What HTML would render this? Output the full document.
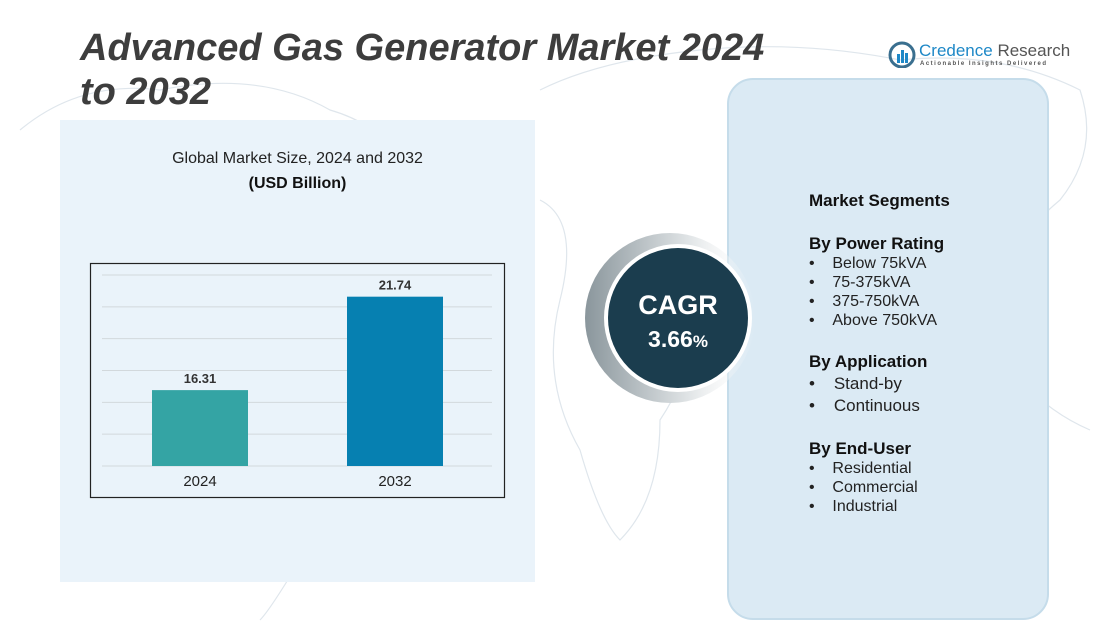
<!DOCTYPE html>
<html><head><meta charset="utf-8"><style>
body{margin:0;width:1113px;height:623px;background:#fff;position:relative;overflow:hidden;font-family:"Liberation Sans",sans-serif;}
.abs{position:absolute;}
#title{left:80px;top:26px;font-size:38px;font-weight:bold;font-style:italic;color:#3d3d3d;line-height:44px;}
#left-panel{left:60px;top:120px;width:475px;height:462px;background:#eaf3fa;}
#right-panel{left:727px;top:78px;width:322px;height:542px;background:#dbeaf4;border:2px solid #c5dcea;border-radius:26px;box-sizing:border-box;}
.seg{position:absolute;left:809px;color:#111;font-size:16px;}
.h{font-weight:bold;font-size:17px;}
.li{font-size:16px;color:#222;}
</style></head><body>
<svg class="abs" style="left:0;top:0" width="1113" height="623">
<g fill="none" stroke="#dfe6ec" stroke-width="1.2">
<path d="M20 130 Q80 80 160 90 Q260 70 330 110 Q400 130 420 200 Q380 260 330 300 Q300 360 340 420 Q360 500 300 560 Q270 610 260 620"/>
<path d="M540 90 Q600 60 700 50 Q800 40 900 60 Q1000 50 1080 90 Q1100 150 1060 200 Q1000 250 980 320 Q1020 400 1090 430"/>
<path d="M540 200 Q580 220 560 300 Q540 380 580 450 Q600 520 620 540 Q660 500 660 420 Q700 360 690 300"/>
</g></svg>
<div id="title" class="abs">Advanced Gas Generator Market 2024<br>to 2032</div>
<div class="abs" style="left:888px;top:40px;width:180px;height:30px">
<svg width="28" height="28" style="position:absolute;left:0;top:0"><circle cx="14" cy="15" r="12" fill="none" stroke="#3a6f8f" stroke-width="3"/><rect x="9" y="14" width="3" height="9" fill="#1e88c7"/><rect x="13" y="10" width="3" height="13" fill="#1e88c7"/><rect x="17" y="13" width="3" height="10" fill="#1e88c7"/></svg>
<div style="position:absolute;left:31px;top:1px;font-size:17px;color:#555;white-space:nowrap"><span style="color:#1e88c7">Credence</span> Research</div>
<div style="position:absolute;left:32px;top:21px;font-size:6px;color:#555;letter-spacing:1.5px;white-space:nowrap;font-weight:bold">Actionable Insights Delivered</div>
</div>
<div id="left-panel" class="abs"></div>
<div class="abs" style="left:60px;top:150px;width:475px;text-align:center;font-size:16px;color:#222">Global Market Size, 2024 and 2032</div>
<div class="abs" style="left:60px;top:175px;width:475px;text-align:center;font-size:16px;font-weight:bold;color:#111">(USD Billion)</div>
<svg id="chart" class="abs" style="left:0;top:0" width="1113" height="623"></svg>
<div id="right-panel" class="abs"></div>
<svg class="abs" style="left:570px;top:215px" width="200" height="210">
<defs><linearGradient id="g" x1="0" x2="1"><stop offset="0" stop-color="#8a969c"/><stop offset="0.6" stop-color="#dfe3e5"/><stop offset="1" stop-color="#ffffff" stop-opacity="0"/></linearGradient></defs>
<circle cx="100" cy="103" r="85" fill="url(#g)"/>
<circle cx="108" cy="103" r="74" fill="#fff"/>
<circle cx="108" cy="103" r="70" fill="#1b3d4e"/>
<text x="108" y="99" text-anchor="middle" fill="#fff" font-size="27" font-weight="bold" font-family="Liberation Sans">CAGR</text>
<text x="108" y="132" text-anchor="middle" fill="#fff" font-size="23" font-weight="bold" font-family="Liberation Sans">3.66<tspan font-size="17">%</tspan></text>
</svg>
<div class="seg h" style="top:191px">Market Segments</div>
<div class="seg h" style="top:234px">By Power Rating</div>
<div class="seg li" style="top:255px">•&nbsp;&nbsp;&nbsp;&nbsp;Below 75kVA</div>
<div class="seg li" style="top:274px">•&nbsp;&nbsp;&nbsp;&nbsp;75-375kVA</div>
<div class="seg li" style="top:293px">•&nbsp;&nbsp;&nbsp;&nbsp;375-750kVA</div>
<div class="seg li" style="top:312px">•&nbsp;&nbsp;&nbsp;&nbsp;Above 750kVA</div>
<div class="seg h" style="top:352px">By Application</div>
<div class="seg li" style="top:374px;font-size:17px">•&nbsp;&nbsp;&nbsp;&nbsp;Stand-by</div>
<div class="seg li" style="top:396px;font-size:17px">•&nbsp;&nbsp;&nbsp;&nbsp;Continuous</div>
<div class="seg h" style="top:439px">By End-User</div>
<div class="seg li" style="top:460px">•&nbsp;&nbsp;&nbsp;&nbsp;Residential</div>
<div class="seg li" style="top:479px">•&nbsp;&nbsp;&nbsp;&nbsp;Commercial</div>
<div class="seg li" style="top:498px">•&nbsp;&nbsp;&nbsp;&nbsp;Industrial</div>
<script>
const categories=["2024","2032"];
const values=[16.31,21.74];
const valueLabels=["16.31","21.74"];
const barColors=["#34a4a4","#0680b1"];
const yMin=11.9, yMax=23.0, gridCount=6;
const svg=document.getElementById('chart');
const NS='http://www.w3.org/2000/svg';
const plot={x0:102,x1:492,yBase:466,yTop:275};
function y(v){return plot.yBase-(v-yMin)/(yMax-yMin)*(plot.yBase-plot.yTop);}
function xc(i){return 200+i*195;}
function mk(t,a){const e=document.createElementNS(NS,t);for(const k in a)e.setAttribute(k,a[k]);svg.appendChild(e);return e;}
const frame=mk('rect',{x:90.5,y:263.5,width:414,height:234,fill:'none',stroke:'#222','stroke-width':1.2});


for(let i=0;i<=gridCount;i++){
 const v=yMin+(yMax-yMin)*i/gridCount;
 const g=mk('line',{x1:plot.x0,x2:plot.x1,y1:y(v),y2:y(v),stroke:'#d2d8dc','stroke-width':1});
 
 
}
categories.forEach((c,i)=>{
 const b=mk('rect',{x:xc(i)-48,y:y(values[i]),width:96,height:plot.yBase-y(values[i]),fill:barColors[i]});
 
 
 const t=mk('text',{x:xc(i),y:y(values[i])-7,'text-anchor':'middle','font-size':13,'font-weight':'bold',fill:'#333','font-family':'Liberation Sans'});
 t.textContent=valueLabels[i];
 
 
 const l=mk('text',{x:xc(i),y:486,'text-anchor':'middle','font-size':15,fill:'#222','font-family':'Liberation Sans'});
 l.textContent=c;
 
 
});
</script>
</body></html>
